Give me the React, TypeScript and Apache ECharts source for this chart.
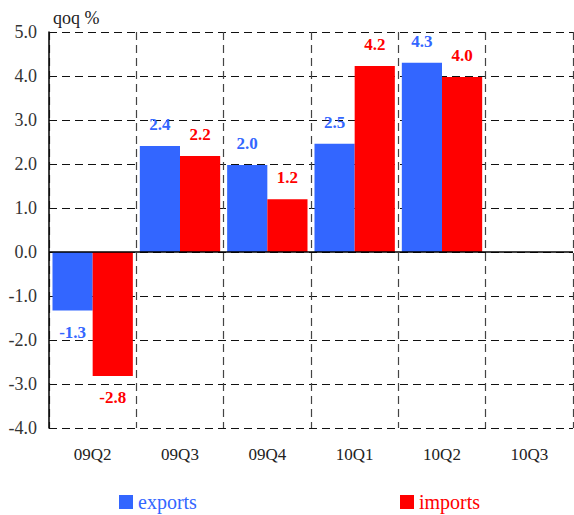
import React, { useEffect, useRef } from "react";
import * as echarts from "echarts";

const categories = ["09Q2", "09Q3", "09Q4", "10Q1", "10Q2", "10Q3"];
const exportsValues = [-1.33, 2.41, 1.98, 2.46, 4.3, null];
const importsValues = [-2.82, 2.18, 1.2, 4.23, 3.98, null];
const yTicks = { min: -4, max: 5, interval: 1 };

const FONT = "Liberation Serif";
const BLUE = "#3366FF";
const RED = "#FF0000";

function toData(vals: (number | null)[]) {
  return vals.map((v) =>
    v === null
      ? null
      : { value: v, label: { position: v < 0 ? "bottom" : "top" } }
  );
}

export default function App() {
  const ref = useRef<HTMLDivElement>(null);
  useEffect(() => {
    if (!ref.current) return;
    const chart = echarts.init(ref.current, undefined, { renderer: "svg" });
    const labelCfg = (color: string) => ({
      show: true,
      distance: 13,
      color,
      fontFamily: FONT,
      fontWeight: "bold" as const,
      fontSize: 17,
      formatter: (p: any) => Number(p.value).toFixed(1),
    });
    const legendText = { fontFamily: FONT, fontSize: 20, lineHeight: 20 };
    chart.setOption({
      animation: false,
      textStyle: { fontFamily: FONT },
      title: {
        text: "qoq %",
        left: 48,
        top: 4,
        textStyle: { fontFamily: FONT, fontSize: 18, fontWeight: "normal", color: "#222" },
      },
      legend: [
        {
          data: [{ name: "exports", textStyle: { color: BLUE } }],
          left: 114,
          top: 487,
          itemWidth: 14,
          itemHeight: 14,
          itemGap: 5,
          icon: "rect",
          textStyle: legendText,
        },
        {
          data: [{ name: "imports", textStyle: { color: RED } }],
          left: 395,
          top: 487,
          itemWidth: 14,
          itemHeight: 14,
          itemGap: 5,
          icon: "rect",
          textStyle: legendText,
        },
      ],
      grid: { left: 49, right: 1, top: 32, bottom: 87, containLabel: false },
      xAxis: {
        type: "category",
        data: categories,
        axisLine: { show: false },
        axisTick: { show: false },
        axisLabel: { fontFamily: FONT, fontSize: 17, color: "#222", margin: 18 },
        splitLine: {
          show: true,
          lineStyle: { color: "#444", type: [8, 5], width: 1.2 },
        },
      },
      yAxis: {
        type: "value",
        min: yTicks.min,
        max: yTicks.max,
        interval: yTicks.interval,
        axisLine: { show: true, lineStyle: { color: "#000", width: 1.5 } },
        axisTick: { show: false },
        axisLabel: {
          fontFamily: FONT,
          fontSize: 18,
          color: "#333",
          margin: 12,
          formatter: (v: number) => v.toFixed(1),
        },
        splitLine: {
          show: true,
          lineStyle: { color: "#111", type: [8, 5], width: 1.2 },
        },
      },
      series: [
        {
          name: "exports",
          type: "bar",
          data: toData(exportsValues),
          itemStyle: { color: BLUE },
          barGap: "0%",
          barCategoryGap: "8%",
          label: labelCfg(BLUE),
          markLine: {
            silent: true,
            symbol: ["none", "none"],
            label: { show: false },
            lineStyle: { color: "#000", type: "solid", width: 1.5 },
            data: [{ yAxis: 0 }],
          },
        },
        {
          name: "imports",
          type: "bar",
          data: toData(importsValues),
          itemStyle: { color: RED },
          barGap: "0%",
          barCategoryGap: "8%",
          label: labelCfg(RED),
        },
      ],
    });
    return () => chart.dispose();
  }, []);
  return (
    <div
      ref={ref}
      style={{ position: "fixed", left: 0, top: 0, width: 574, height: 515, background: "#fff" }}
    />
  );
}
